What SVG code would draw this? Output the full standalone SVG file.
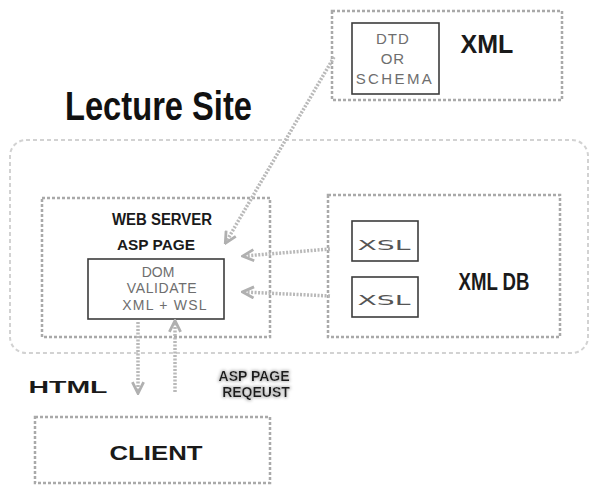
<svg xmlns="http://www.w3.org/2000/svg" width="594" height="485" viewBox="0 0 594 485">
  <defs>
    <style>
      .frame { fill: none; stroke: #a9a9a9; stroke-width: 2.5; stroke-dasharray: 3 2; }
      .site { fill: none; stroke: #d2d2d2; stroke-width: 2; stroke-dasharray: 4 3; }
      .inner { fill: #ffffff; stroke: #3c3c3c; stroke-width: 1.6; }
      .lbl { font-family: "Liberation Sans", Arial, sans-serif; font-weight: bold; fill: #1a1a1a; text-anchor: middle; }
      .sub { font-family: "Liberation Sans", Arial, sans-serif; fill: #6e6e6e; text-anchor: middle; }
      .xsl { font-family: "DejaVu Sans", "Liberation Sans", sans-serif; fill: #555555; text-anchor: middle; }
      .flow { fill: none; stroke: #b9b9b9; stroke-width: 3.5; stroke-dasharray: 2 1.5; }
    </style>
    <marker id="head" viewBox="0 0 10 10" refX="8" refY="5" markerWidth="4" markerHeight="4" orient="auto" markerUnits="strokeWidth">
      <path d="M1,1 L9,5 L1,9" fill="none" stroke="#b0b0b0" stroke-width="2"/>
    </marker>
    <filter id="halo" x="-10%" y="-30%" width="120%" height="160%">
      <feMorphology in="SourceAlpha" operator="dilate" radius="1" result="fat"/>
      <feGaussianBlur in="fat" stdDeviation="1.5" result="soft"/>
      <feFlood flood-color="#c4c4c4"/>
      <feComposite in2="soft" operator="in" result="glow"/>
      <feMerge>
        <feMergeNode in="glow"/>
        <feMergeNode in="SourceGraphic"/>
      </feMerge>
    </filter>
  </defs>

  <rect width="594" height="485" fill="#ffffff"/>

  <!-- site boundary -->
  <g id="lecture-site">
    <rect class="site" x="10" y="140" width="578" height="213" rx="16"/>
    <text x="65" y="120" font-family="Liberation Sans, Arial, sans-serif" font-weight="bold" font-size="40" fill="#111111" textLength="187" lengthAdjust="spacingAndGlyphs">Lecture Site</text>
  </g>

  <!-- XML source -->
  <g id="xml">
    <rect class="frame" x="332" y="11" width="230" height="89"/>
    <rect class="inner" x="352" y="23" width="87" height="71"/>
    <text class="sub" font-size="15">
      <tspan x="395" y="44" letter-spacing="1">DTD</tspan>
      <tspan x="395" y="64" letter-spacing="1">OR</tspan>
      <tspan x="395" y="84" letter-spacing="2.4">SCHEMA</tspan>
    </text>
    <text class="lbl" x="487" y="53" font-size="25">XML</text>
  </g>

  <!-- web server -->
  <g id="web-server">
    <rect class="frame" x="42" y="198" width="228" height="139"/>
    <text class="lbl" x="162" y="225" font-size="16" textLength="100" lengthAdjust="spacingAndGlyphs">WEB SERVER</text>
    <text class="lbl" x="156" y="250" font-size="15" fill="#2a2a2a" textLength="78" lengthAdjust="spacingAndGlyphs">ASP PAGE</text>
    <rect class="inner" x="88" y="259" width="136" height="60"/>
    <text class="sub" font-size="14">
      <tspan x="160" y="277">DOM</tspan>
      <tspan x="164" y="293" letter-spacing="0.6">VALIDATE</tspan>
      <tspan x="165" y="310" letter-spacing="1.2">XML + WSL</tspan>
    </text>
  </g>

  <!-- XML database -->
  <g id="xml-db">
    <rect class="frame" x="328" y="195" width="232" height="142"/>
    <rect class="inner" x="352" y="221" width="66" height="40"/>
    <text class="xsl" x="384" y="250" font-size="14" textLength="53" lengthAdjust="spacingAndGlyphs">XSL</text>
    <rect class="inner" x="352" y="277" width="66" height="40"/>
    <text class="xsl" x="384" y="305" font-size="14" textLength="53" lengthAdjust="spacingAndGlyphs">XSL</text>
    <text class="lbl" x="494" y="290" font-size="24" textLength="71" lengthAdjust="spacingAndGlyphs">XML DB</text>
  </g>

  <!-- client -->
  <g id="client">
    <rect class="frame" x="35" y="417" width="235" height="66"/>
    <text class="lbl" x="156" y="460" font-size="21" textLength="93" lengthAdjust="spacingAndGlyphs">CLIENT</text>
  </g>

  <!-- flow labels -->
  <g id="flow-labels">
    <text class="lbl" x="68" y="393" font-size="16" fill="#222222" textLength="79" lengthAdjust="spacingAndGlyphs">HTML</text>
    <text class="lbl" font-size="14" fill="#222222" filter="url(#halo)">
      <tspan x="256" y="381">ASP PAGE</tspan>
      <tspan x="256" y="397">REQEUST</tspan>
    </text>
  </g>

  <!-- connectors -->
  <g id="connectors">
    <path class="flow" d="M334,57 L226,242" marker-end="url(#head)"/>
    <path class="flow" d="M330,249 L244,256" marker-end="url(#head)"/>
    <path class="flow" d="M330,296 L244,292" marker-end="url(#head)"/>
    <path class="flow" d="M138,322 L138,392" marker-end="url(#head)"/>
    <path class="flow" d="M175,392 L175,322" marker-end="url(#head)"/>
  </g>
</svg>
